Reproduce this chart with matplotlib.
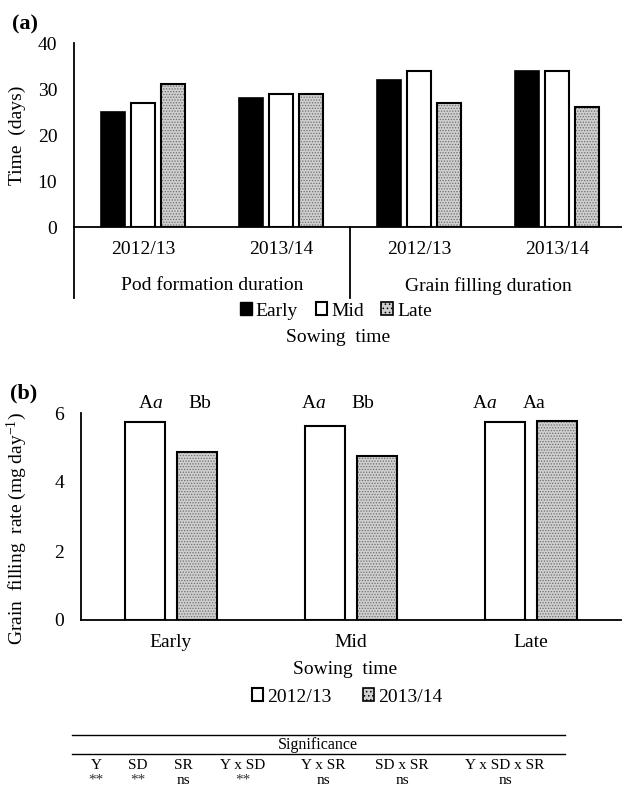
import matplotlib
matplotlib.use('Agg')
import matplotlib.pyplot as plt
import matplotlib.patches as mpatches
from matplotlib.lines import Line2D
import numpy as np

plt.rcParams['font.family'] = ['Liberation Serif', 'DejaVu Serif']
plt.rcParams['mathtext.fontset'] = 'custom'
plt.rcParams['mathtext.rm'] = 'Liberation Serif'
plt.rcParams['mathtext.it'] = 'Liberation Serif:italic'
plt.rcParams['mathtext.bf'] = 'Liberation Serif:bold'
plt.rcParams['hatch.linewidth'] = 0.6

# Panel (a) data: duration (days)
years_a    = ['2012/13', '2013/14', '2012/13', '2013/14']
phases     = ['Pod formation duration', 'Grain filling duration']
sow_times  = ['Early', 'Mid', 'Late']
early_days = [25, 28, 32, 34]
mid_days   = [27, 29, 34, 34]
late_days  = [31, 29, 27, 26]

# Panel (b) data: grain filling rate (mg day-1)
sow_b      = ['Early', 'Mid', 'Late']
years_b    = ['2012/13', '2013/14']
rate_1213  = [5.75, 5.63, 5.75]
rate_1314  = [4.88, 4.75, 5.78]
letters_1213 = ['A$\\mathit{a}$', 'A$\\mathit{a}$', 'A$\\mathit{a}$']
letters_1314 = ['Bb', 'Bb', 'Aa']

# Significance table
sig_terms  = ['Y', 'SD', 'SR', 'Y x SD', 'Y x SR', 'SD x SR', 'Y x SD x SR']
sig_values = ['**', '**', 'ns', '**', 'ns', 'ns', 'ns']

W, H = 622, 789
fig = plt.figure(figsize=(W / 100, H / 100), dpi=100)

def fx(px):
    return px / W

def fy(py):
    return 1 - py / H

FS = 14
GRAY = '#cfcfcf'


def hatched_bar(ax, x, h, w):
    # dotted gray fill, then black outline on top
    ax.bar(x, h, w, color=GRAY, edgecolor='#6e6e6e', hatch='......', linewidth=0)
    ax.bar(x, h, w, fill=False, edgecolor='black', linewidth=1.5)


# ---------------- Panel (a) ----------------
ax1 = fig.add_axes([fx(74), fy(227), fx(552), (227 - 43) / H])
xa = np.arange(len(years_a))
bw = 0.174
off = 0.22
ax1.bar(xa - off, early_days, bw, color='black', edgecolor='black', linewidth=1.2)
ax1.bar(xa, mid_days, bw, color='white', edgecolor='black', linewidth=1.5)
for xi, v in zip(xa + off, late_days):
    hatched_bar(ax1, xi, v, bw)

ax1.set_xlim(-0.5, 3.5)
ax1.set_ylim(0, 40)
ax1.set_yticks([0, 10, 20, 30, 40])
ax1.set_xticks(xa)
ax1.set_xticklabels(years_a)
ax1.tick_params(axis='both', length=0, labelsize=FS)
ax1.tick_params(axis='y', pad=12)
ax1.tick_params(axis='x', pad=10)
for s in ['top', 'right']:
    ax1.spines[s].set_visible(False)
ax1.spines['left'].set_linewidth(1.3)
ax1.spines['bottom'].set_linewidth(1.3)

# group dividers below the axis
trans = ax1.get_xaxis_transform()
ybot = -(298 - 227) / 184
for xd in [-0.5, 1.5]:
    ax1.plot([xd, xd], [0, ybot], color='black', lw=1.3, transform=trans, clip_on=False)
for i, ph in enumerate(phases):
    ax1.text(0.5 + 2 * i, -(286 - 227) / 184, ph, transform=trans,
             ha='center', va='center', fontsize=FS)

fig.text(fx(17), fy(135), 'Time  (days)', rotation=90, ha='center', va='center', fontsize=FS)
fig.text(fx(12), fy(24), '(a)', ha='left', va='center', fontsize=16, fontweight='bold')

h_early = mpatches.Patch(facecolor='black', edgecolor='black', label='Early')
h_mid = mpatches.Patch(facecolor='white', edgecolor='black', linewidth=1.5, label='Mid')
h_late = mpatches.Patch(facecolor=GRAY, edgecolor='black', hatch='....', linewidth=1.2, label='Late')
fig.legend(handles=[h_early, h_mid, h_late], loc='center', bbox_to_anchor=(fx(336), fy(311)),
           ncol=3, frameon=False, fontsize=FS, handlelength=0.6, handleheight=0.6,
           handletextpad=0.2, columnspacing=0.9, borderpad=0)
fig.text(fx(338), fy(337), 'Sowing  time', ha='center', va='center', fontsize=FS)

# ---------------- Panel (b) ----------------
ax2 = fig.add_axes([fx(80.7), fy(620), fx(540), (620 - 413) / H])
xb = np.arange(len(sow_b))
bw2 = 0.222
off2 = 0.144
ax2.bar(xb - off2, rate_1213, bw2, color='white', edgecolor='black', linewidth=1.5)
for xi, v in zip(xb + off2, rate_1314):
    hatched_bar(ax2, xi, v, bw2)

ax2.set_xlim(-0.5, 2.5)
ax2.set_ylim(0, 6)
ax2.set_yticks([0, 2, 4, 6])
ax2.set_xticks(xb)
ax2.set_xticklabels(sow_b)
ax2.tick_params(axis='both', length=0, labelsize=FS)
ax2.tick_params(axis='y', pad=12)
ax2.tick_params(axis='x', pad=10)
for s in ['top', 'right']:
    ax2.spines[s].set_visible(False)
ax2.spines['left'].set_linewidth(1.3)
ax2.spines['bottom'].set_linewidth(1.3)

shift = [0.03, -0.065, -0.115]
for i in range(len(sow_b)):
    ax2.text(xb[i] - off2 + shift[i], 6.28, letters_1213[i], ha='center', va='center', fontsize=FS)
    ax2.text(xb[i] + off2 + shift[i] - 0.01, 6.28, letters_1314[i], ha='center', va='center', fontsize=FS)

fig.text(fx(17), fy(529), 'Grain  filling  rate (mg day$^{-1}$)', rotation=90,
         ha='center', va='center', fontsize=FS)
fig.text(fx(10), fy(393), '(b)', ha='left', va='center', fontsize=16, fontweight='bold')

fig.text(fx(345), fy(670), 'Sowing  time', ha='center', va='center', fontsize=FS)
h_y1 = mpatches.Patch(facecolor='white', edgecolor='black', linewidth=1.5, label=years_b[0])
h_y2 = mpatches.Patch(facecolor=GRAY, edgecolor='black', hatch='....', linewidth=1.2, label=years_b[1])
fig.legend(handles=[h_y1, h_y2], loc='center', bbox_to_anchor=(fx(347), fy(697)),
           ncol=2, frameon=False, fontsize=FS, handlelength=0.6, handleheight=0.6,
           handletextpad=0.2, columnspacing=1.6, borderpad=0)

# ---------------- Significance table ----------------
for ly in [735, 754]:
    fig.add_artist(Line2D([fx(72), fx(565)], [fy(ly), fy(ly)], color='black', lw=1.0))
fig.text(fx(318), fy(749), 'Significance', ha='center', va='baseline', fontsize=11.5)
col_x = [96, 138, 183, 243, 323, 402, 505]
for cx, term, val in zip(col_x, sig_terms, sig_values):
    fig.text(fx(cx), fy(769), term, ha='center', va='baseline', fontsize=11)
    if val == '**':
        fig.text(fx(cx), fy(784), val, ha='center', va='baseline', fontsize=11, color='#333333')
    else:
        fig.text(fx(cx), fy(784), val, ha='center', va='baseline', fontsize=11)

fig.savefig('out.png', dpi=100)
